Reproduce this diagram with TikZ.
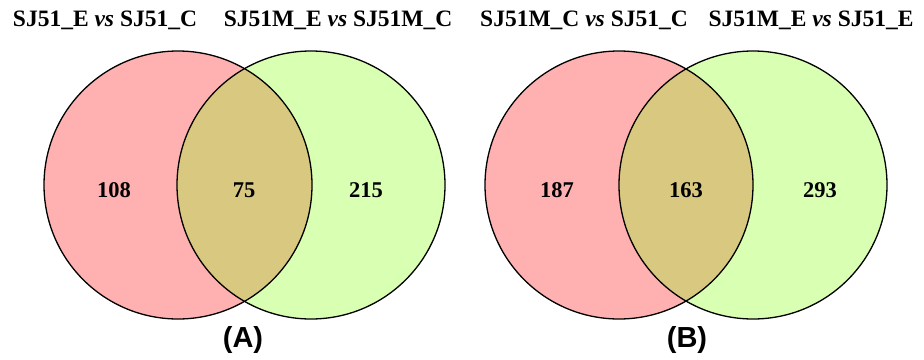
\documentclass[tikz,border=0pt]{standalone}
\usepackage{fontspec}
\setmainfont{Liberation Serif}
\newfontfamily\labfont{Liberation Sans}
\definecolor{vpink}{RGB}{255,176,176}
\definecolor{vgreen}{RGB}{216,255,178}
\definecolor{vtan}{RGB}{216,200,128}
\begin{document}
\begin{tikzpicture}[x=1pt,y=-1pt,
  ttl/.style={font=\fontsize{23.5}{26}\selectfont\bfseries, inner sep=0pt, anchor=center},
  num/.style={font=\fontsize{22.5}{26}\selectfont\bfseries, inner sep=0pt},
  pan/.style={font=\labfont\fontsize{29}{32}\selectfont\bfseries, inner sep=0pt},
  ring/.style={draw=black, line width=1.3pt}]
\useasboundingbox (0,0) rectangle (924,359);
% Venn A
\def\R{134}
\fill[vpink] (178,185) circle (\R);
\fill[vgreen] (311,185) circle (\R);
\begin{scope}
  \clip (178,185) circle (\R);
  \fill[vtan] (311,185) circle (\R);
\end{scope}
\draw[ring] (178,185) circle (\R);
\draw[ring] (311,185) circle (\R);
% Venn B
\fill[vpink] (619,185) circle (\R);
\fill[vgreen] (753,185) circle (\R);
\begin{scope}
  \clip (619,185) circle (\R);
  \fill[vtan] (753,185) circle (\R);
\end{scope}
\draw[ring] (619,185) circle (\R);
\draw[ring] (753,185) circle (\R);
% titles
\node[ttl] (t1) at (105,20) {SJ51\_E \textit{vs} SJ51\_C};
\node[ttl] (t2) at (338,20) {SJ51M\_E \textit{vs} SJ51M\_C};
\node[ttl] (t3) at (584,20) {SJ51M\_C \textit{vs} SJ51\_C};
\node[ttl] (t4) at (811,20) {SJ51M\_E \textit{vs} SJ51\_E};
% numbers
\node[num] (a1) at (114,190) {108};
\node[num] (a2) at (244,190) {75};
\node[num] (a3) at (366,190) {215};
\node[num] (b1) at (557,190) {187};
\node[num] (b2) at (686,190) {163};
\node[num] (b3) at (820,190) {293};
% panel labels
\node[pan] (pa) at (243,340) {(A)};
\node[pan] (pb) at (687,340) {(B)};
\end{tikzpicture}
\end{document}
